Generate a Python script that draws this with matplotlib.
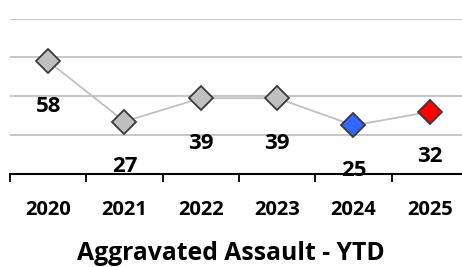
import matplotlib.pyplot as plt

years = ['2020', '2021', '2022', '2023', '2024', '2025']
counts = [58, 27, 39, 39, 25, 32]
marker_colors = ['#c0c0c0', '#c0c0c0', '#c0c0c0', '#c0c0c0', '#3366ff', '#ff0000']
title = 'Aggravated Assault - YTD'

plt.rcParams['font.family'] = ['Open Sans', 'DejaVu Sans']

W, H = 462, 267
fig = plt.figure(figsize=(W / 100, H / 100), dpi=100)
ax = fig.add_axes([10 / W, 93 / H, 458 / W, 155.5 / H])

x = list(range(len(years)))
ax.plot(x, counts, color='#c0c0c0', lw=1.3, zorder=2)
for i, v in enumerate(counts):
    ax.plot(i, v, marker='D', ms=12, mfc=marker_colors[i], mec='#3a3a3a', mew=1.3, zorder=3)
    ax.annotate(str(v), (i, v), xytext=(0, -32.5), textcoords='offset points',
                ha='center', va='center', fontsize=16, fontweight='bold')

ax.set_xlim(-0.5, len(years) - 0.5)
ax.set_ylim(0, 80)
ax.set_yticks([20, 40, 60, 80])
ax.yaxis.grid(True, color='#c8c8c8', lw=1.5)
ax.set_axisbelow(True)
ax.tick_params(axis='y', left=False, labelleft=False)

ax.set_xticks(x)
ax.set_xticklabels(years, fontsize=14.5, fontweight='bold')
ax.set_xticks([i - 0.5 for i in range(len(years) + 1)], minor=True)
ax.tick_params(axis='x', which='major', length=0, pad=18.5)
ax.tick_params(axis='x', which='minor', length=5.5, width=1.3, direction='out')

for s in ['top', 'right', 'left']:
    ax.spines[s].set_visible(False)
ax.spines['bottom'].set_linewidth(1.5)

fig.text(231 / W, 1 - 253 / H, title, ha='center', va='center', fontsize=17.8, fontweight='bold')

fig.savefig('out.png', dpi=100)
